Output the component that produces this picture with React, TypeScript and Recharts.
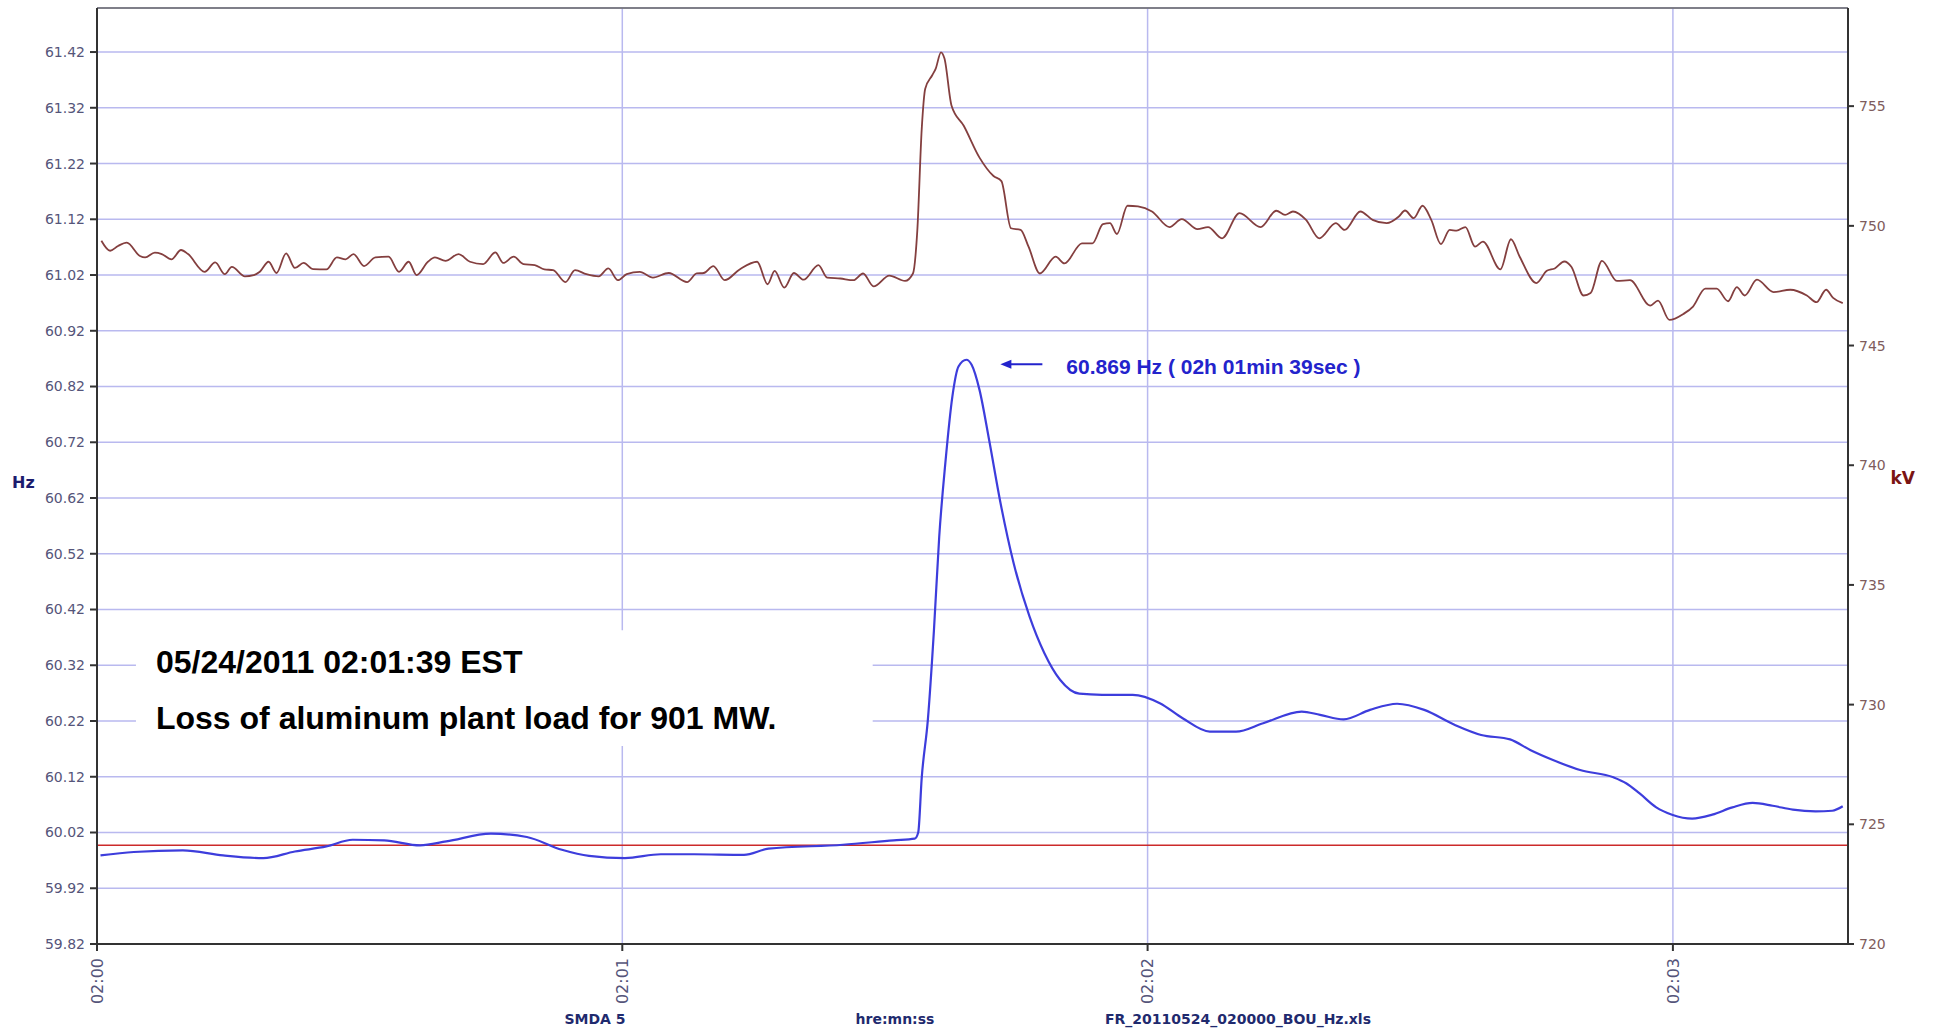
import {
  CartesianGrid,
  Line,
  LineChart,
  ReferenceArea,
  ReferenceDot,
  ReferenceLine,
  XAxis,
  YAxis,
} from 'recharts'

// seconds after 02:00:00
const HZ_TIME = [
  0.4, 4.2, 9.8, 14.4, 19.0, 22.6, 26.2, 29.2, 32.8, 36.9, 39.9, 45.0, 49.1, 53.1, 56.2, 60.3, 64.4, 68.2,
  73.9, 76.7, 85.2, 91.0, 93.4, 93.8, 94.2, 94.9, 95.6, 96.2, 96.9, 97.7, 98.4, 99.3, 99.9, 100.8, 101.9,
  103.2, 104.7, 106.5, 108.2, 110.0, 112.2, 114.8, 118.3, 121.4, 124.0, 127.1, 130.1, 133.2, 137.6, 139.7,
  142.4, 145.4, 148.5, 151.6, 155.1, 158.1, 161.4, 163.7, 166.3, 169.4, 173.2, 174.7, 176.2, 178.1, 179.9,
  182.2, 184.5, 186.8, 189.1, 191.4, 193.7, 196.3, 198.2, 199.4,
]
const HZ_VALUES = [
  59.979, 59.985, 59.988, 59.979, 59.974, 59.986, 59.995, 60.007, 60.006, 59.997, 60.004, 60.018, 60.012,
  59.989, 59.978, 59.974, 59.981, 59.981, 59.98, 59.991, 59.998, 60.006, 60.009, 60.02, 60.118, 60.222,
  60.384, 60.551, 60.683, 60.802, 60.856, 60.868, 60.859, 60.814, 60.724, 60.611, 60.503, 60.408, 60.342,
  60.294, 60.269, 60.267, 60.267, 60.252, 60.225, 60.201, 60.201, 60.216, 60.237, 60.231, 60.223, 60.24,
  60.251, 60.24, 60.213, 60.195, 60.187, 60.168, 60.15, 60.132, 60.119, 60.108, 60.09, 60.065, 60.052,
  60.045, 60.052, 60.065, 60.073, 60.068, 60.061, 60.058, 60.059, 60.067,
]

const KV_TIME = [
  0.5, 1.5, 2.4, 3.4, 4.9, 5.5, 6.6, 7.4, 8.5, 9.6, 10.4, 12.3, 13.5, 14.6, 15.4, 16.9, 17.9, 18.6, 19.6,
  20.5, 21.6, 22.6, 23.6, 24.7, 26.2, 27.4, 28.4, 29.3, 30.5, 31.8, 33.3, 34.5, 35.6, 36.5, 37.8, 38.6, 39.8,
  41.3, 42.6, 44.1, 45.5, 46.4, 47.6, 48.7, 50.0, 51.1, 52.1, 53.5, 54.6, 55.9, 57.3, 58.4, 59.5, 60.5, 62.0,
  63.5, 65.3, 67.4, 68.5, 69.3, 70.4, 71.7, 73.4, 75.4, 76.6, 77.4, 78.5, 79.6, 80.7, 82.4, 83.4, 84.9, 86.4,
  87.5, 88.7, 90.5, 92.3, 93.2, 93.7, 94.2, 94.6, 95.4, 95.8, 96.4, 96.8, 97.6, 99.0, 100.8, 102.4, 103.3,
  104.4, 105.5, 106.4, 107.7, 109.5, 110.5, 112.5, 113.7, 114.9, 115.7, 116.5, 117.7, 118.9, 120.5, 122.5,
  123.9, 125.7, 126.9, 128.5, 130.5, 132.9, 134.7, 135.7, 136.6, 138.1, 139.6, 141.5, 142.5, 144.3, 145.7,
  147.3, 148.7, 149.4, 150.4, 151.4, 152.4, 153.5, 154.5, 155.3, 156.3, 157.4, 158.3, 160.3, 161.5, 162.5,
  164.4, 165.6, 166.5, 167.6, 168.4, 169.8, 170.6, 171.9, 173.6, 175.1, 177.4, 178.3, 179.6, 181.2, 182.3,
  183.7, 185.0, 186.3, 187.3, 188.2, 189.6, 191.5, 193.4, 195.3, 196.4, 197.5, 198.3, 199.4,
]
const KV_VALUES = [
  749.38, 748.96, 749.16, 749.3, 748.74, 748.68, 748.88, 748.82, 748.6, 748.99, 748.82, 748.08, 748.47,
  747.98, 748.29, 747.89, 747.94, 748.08, 748.5, 748.03, 748.85, 748.24, 748.45, 748.19, 748.18, 748.68,
  748.6, 748.82, 748.32, 748.68, 748.71, 748.08, 748.5, 747.94, 748.5, 748.68, 748.54, 748.82, 748.5, 748.4,
  748.89, 748.45, 748.71, 748.4, 748.36, 748.18, 748.15, 747.65, 748.15, 747.98, 747.89, 748.22, 747.73,
  747.98, 748.08, 747.84, 748.03, 747.65, 748.01, 748.03, 748.32, 747.73, 748.18, 748.5, 747.56, 748.12,
  747.42, 748.03, 747.75, 748.36, 747.84, 747.8, 747.73, 748.01, 747.47, 747.92, 747.7, 748.01, 749.83,
  754.04, 755.73, 756.29, 756.57, 757.25, 756.99, 755.03, 754.18, 752.85, 752.08, 751.87, 749.9, 749.83,
  749.13, 748.01, 748.71, 748.43, 749.27, 749.27, 750.07, 750.11, 749.66, 750.84, 750.81, 750.6, 749.95,
  750.28, 749.86, 749.95, 749.48, 750.53, 749.95, 750.63, 750.46, 750.6, 750.25, 749.48, 750.11, 749.83,
  750.6, 750.25, 750.11, 750.39, 750.64, 750.32, 750.84, 750.25, 749.24, 749.83, 749.8, 749.95, 749.13,
  749.34, 748.18, 749.44, 748.71, 747.61, 748.12, 748.22, 748.51, 748.29, 747.09, 747.19, 748.54, 747.7,
  747.73, 746.67, 746.88, 746.07, 746.32, 746.63, 747.38, 747.38, 746.85, 747.44, 747.09, 747.75, 747.23,
  747.33, 747.09, 746.81, 747.33, 746.99, 746.77,
]

const HZ_TICKS = [
  59.82, 59.92, 60.02, 60.12, 60.22, 60.32, 60.42, 60.52, 60.62, 60.72, 60.82, 60.92, 61.02, 61.12, 61.22,
  61.32, 61.42,
]
const KV_TICKS = [720, 725, 730, 735, 740, 745, 750, 755]
const TIME_TICKS = [0, 60, 120, 180]
const TIME_LABELS = ['02:00', '02:01', '02:02', '02:03']

const HZ_MAX = 61.499
const KV_MAX = 759.1
const NOMINAL_HZ = 59.997
const PEAK = { t: 99.3, hz: 60.869, text: '60.869 Hz ( 02h 01min 39sec )' }
const NOTE_LINES = ['05/24/2011 02:01:39 EST', 'Loss of aluminum plant load for 901 MW.']
const FOOTER = ['SMDA 5', 'hre:mn:ss', 'FR_20110524_020000_BOU_Hz.xls']

const hzData = HZ_TIME.map((t, i) => ({ t, hz: HZ_VALUES[i] }))
const kvData = KV_TIME.map((t, i) => ({ t, kv: KV_VALUES[i] }))

const TICK_FONT = 'DejaVu Sans, Verdana, sans-serif'

function TimeTick({ x, y, payload }: any) {
  const idx = TIME_TICKS.indexOf(payload.value)
  return (
    <g transform={`translate(${x},${y})`}>
      <text
        transform="rotate(-90)"
        textAnchor="end"
        dy="0.35em"
        fill="#55557a"
        fontSize={16}
        fontFamily={TICK_FONT}
      >
        {TIME_LABELS[idx] ?? ''}
      </text>
    </g>
  )
}

function PeakLabel({ viewBox }: any) {
  const cx = viewBox.x + viewBox.width / 2
  const cy = viewBox.y + viewBox.height / 2
  const ay = cy + 5
  return (
    <g>
      <line x1={cx + 42} y1={ay} x2={cx + 76} y2={ay} stroke="#2323cc" strokeWidth={2} />
      <path d={`M${cx + 34},${ay} L${cx + 45},${ay - 4.5} L${cx + 45},${ay + 4.5} Z`} fill="#2323cc" />
      <text
        x={cx + 100}
        y={cy + 7}
        dy="0.35em"
        fill="#2323cc"
        fontSize={21}
        fontWeight="bold"
        fontFamily="Liberation Sans, Arial, sans-serif"
      >
        {PEAK.text}
      </text>
    </g>
  )
}

function NoteLabel({ viewBox }: any) {
  return (
    <g fontFamily="Liberation Sans, Arial, sans-serif" fontWeight="bold" fontSize={32} fill="#000">
      <text x={viewBox.x + 20} y={viewBox.y + 43}>
        {NOTE_LINES[0]}
      </text>
      <text x={viewBox.x + 20} y={viewBox.y + 99}>
        {NOTE_LINES[1]}
      </text>
    </g>
  )
}

function FooterLabel({ viewBox }: any) {
  const y = viewBox.y + 80
  const xs = [498, 798, 1141]
  return (
    <g fontFamily={TICK_FONT} fontWeight="bold" fontSize={14} fill="#1f2a6e" textAnchor="middle">
      {FOOTER.map((s, i) => (
        <text key={s} x={viewBox.x + xs[i]} y={y}>
          {s}
        </text>
      ))}
    </g>
  )
}

export default function App() {
  return (
    <div style={{ position: 'absolute', left: 0, top: 0, background: '#fff' }}>
      <LineChart width={1935} height={1030} margin={{ top: 8, right: 15, bottom: 26, left: 12 }}>
        <CartesianGrid stroke="#b9b9ef" strokeWidth={1.5} />
        <XAxis
          dataKey="t"
          type="number"
          domain={[0, 200]}
          allowDataOverflow
          ticks={TIME_TICKS}
          interval={0}
          height={60}
          tickSize={7}
          tickMargin={7}
          tick={<TimeTick />}
          stroke="#333"
          strokeWidth={2}
          label={<FooterLabel />}
        />
        <YAxis
          type="number"
          domain={[59.82, HZ_MAX]}
          allowDataOverflow
          ticks={HZ_TICKS}
          interval={0}
          width={85}
          tickSize={7}
          tickMargin={5}
          tickFormatter={(v: number) => v.toFixed(2)}
          tick={{ fill: '#55557a', fontSize: 14, fontFamily: TICK_FONT }}
          stroke="#333"
          strokeWidth={2}
          label={{
            value: 'Hz',
            position: 'insideLeft',
            offset: 0,
            dy: 6,
            fill: '#1c1c6e',
            fontSize: 16,
            fontWeight: 'bold',
            fontFamily: TICK_FONT,
          }}
        />
        <YAxis
          yAxisId="kv"
          orientation="right"
          type="number"
          domain={[720, KV_MAX]}
          allowDataOverflow
          ticks={KV_TICKS}
          interval={0}
          width={72}
          tickSize={6}
          tickMargin={5}
          tick={{ fill: '#7e5c5c', fontSize: 14, fontFamily: TICK_FONT }}
          stroke="#333"
          strokeWidth={2}
          label={{
            value: 'kV',
            position: 'insideRight',
            offset: 5,
            dy: 2,
            fill: '#7a1414',
            fontSize: 17,
            fontWeight: 'bold',
            fontFamily: TICK_FONT,
          }}
        />
        <ReferenceLine y={HZ_MAX} stroke="#666" strokeWidth={1.5} />
        <ReferenceArea
          x1={4.45}
          x2={88.6}
          y1={60.175}
          y2={60.383}
          fill="#ffffff"
          fillOpacity={1}
          stroke="none"
          label={<NoteLabel />}
        />
        <ReferenceLine y={NOMINAL_HZ} stroke="#cc2a2a" strokeWidth={1.5} />
        <Line
          data={kvData}
          yAxisId="kv"
          dataKey="kv"
          type="monotone"
          stroke="#843f3f"
          strokeWidth={1.8}
          dot={false}
          isAnimationActive={false}
        />
        <Line
          data={hzData}
          dataKey="hz"
          type="monotone"
          stroke="#3d3ddc"
          strokeWidth={2.2}
          dot={false}
          isAnimationActive={false}
        />
        <ReferenceDot x={PEAK.t} y={PEAK.hz} r={1} fill="none" stroke="none" label={<PeakLabel />} />
      </LineChart>
    </div>
  )
}
